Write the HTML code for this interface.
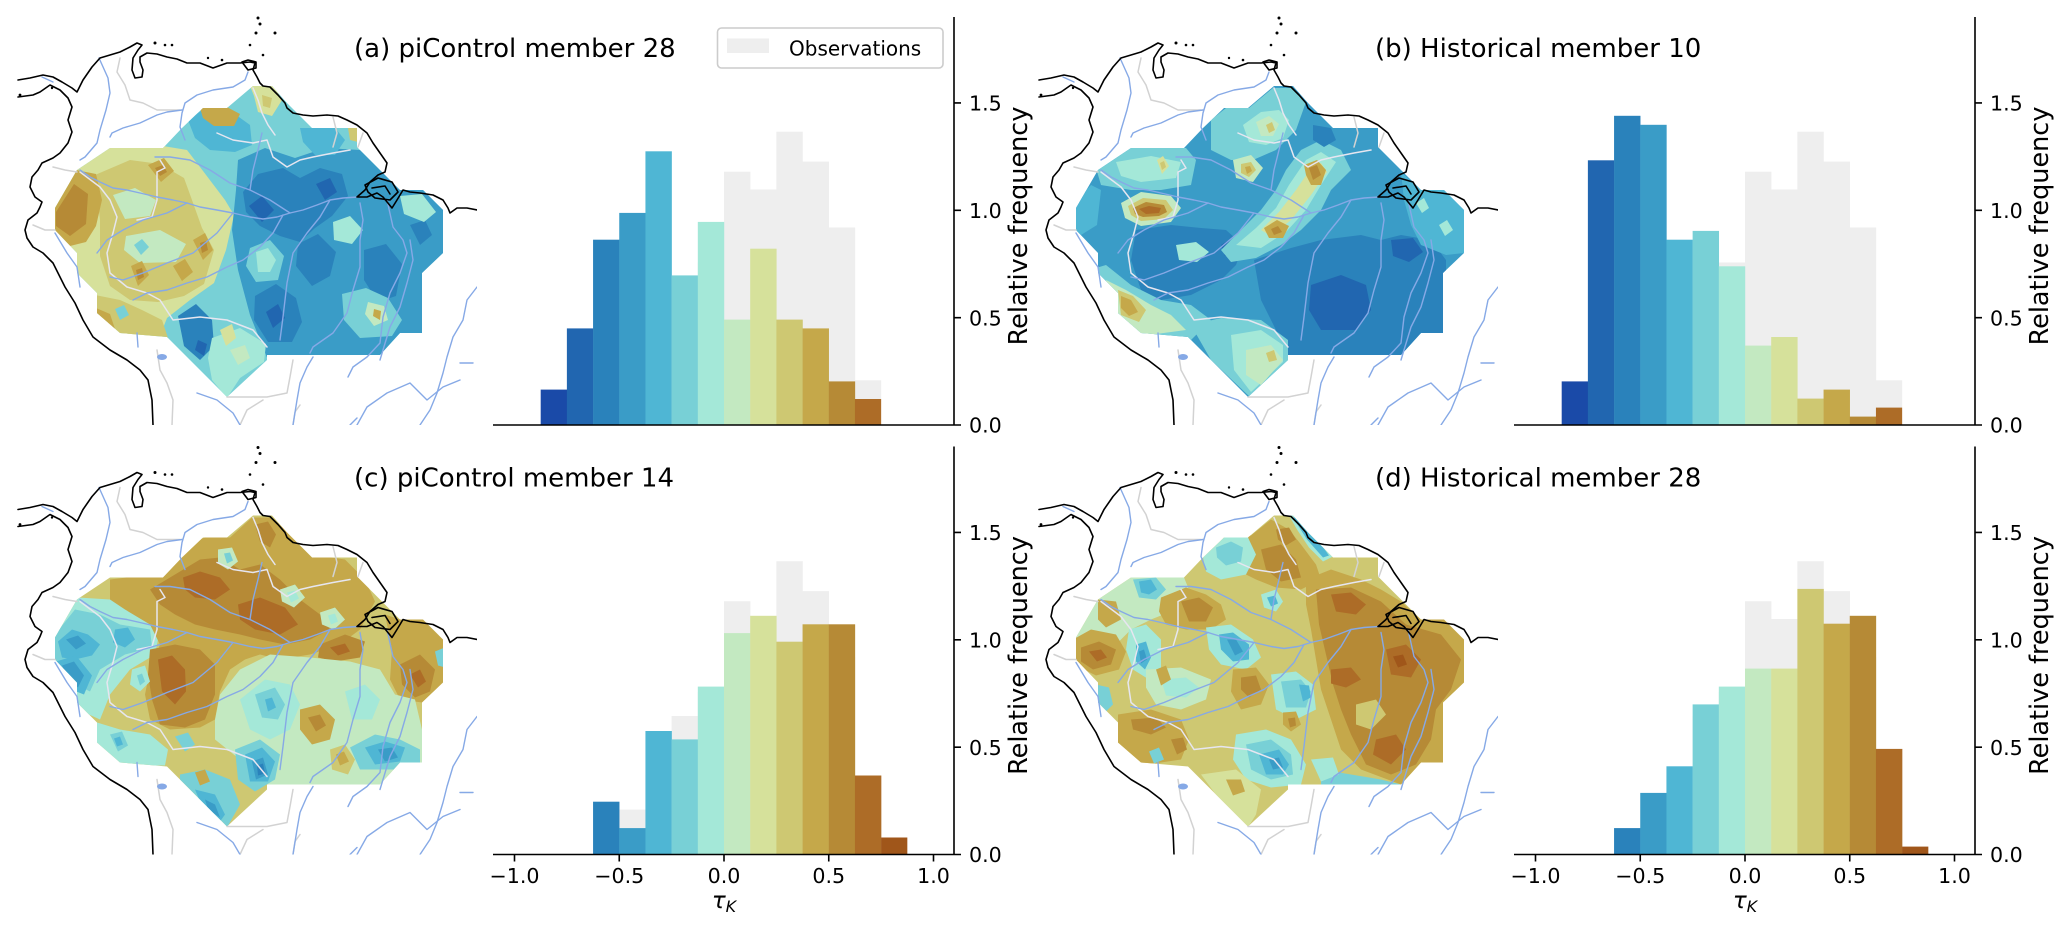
<!DOCTYPE html>
<html>
<head>
<meta charset="utf-8">
<style>
html,body{margin:0;padding:0;background:#fff;}
svg{display:block;}
.a{fill:#1a4aa8}.b{fill:#2166b0}.c{fill:#2a82bb}.d{fill:#3a9cc7}.e{fill:#4fb6d4}.f{fill:#78d0d6}.g{fill:#a4e8d8}.h{fill:#c3e9c1}.i{fill:#d6e19b}.j{fill:#cec872}.k{fill:#c5a84a}.l{fill:#b68a36}.m{fill:#ad6c27}.n{fill:#a0561a}
text{font-family:"DejaVu Sans","Liberation Sans",sans-serif;fill:#000;}
</style>
</head>
<body>
<svg width="2067" height="931" viewBox="0 0 2067 931" xmlns="http://www.w3.org/2000/svg" xmlns:xlink="http://www.w3.org/1999/xlink">
<defs>
  <clipPath id="dp" clipPathUnits="userSpaceOnUse">
    <polygon points="253,86 272,86 287,103 312,128 357,128 357,147 380,170 400,190 423,190 443,210 443,253 422,273 422,333 400,333 380,355 267,355 267,360 227,397 167,337 120,333 97,313 97,293 77,273 77,253 55,230 55,208 77,170 110,148 163,148 182,128 203,108 227,108"/>
  </clipPath>
  <clipPath id="mc" clipPathUnits="userSpaceOnUse">
    <rect x="17" y="15" width="460" height="410"/>
  </clipPath>

  <g id="geo" clip-path="url(#mc)">
    <g fill="none" stroke="#d2d2d2" stroke-width="1.5" stroke-linejoin="round" stroke-linecap="round">
      <path d="M120,58L117,72L125,85L130,100L143,103L157,110L180,110"/>
      <path d="M33,225L45,230L55,230"/>
      <path d="M53,167L65,170L77,172"/>
      <path d="M157,350L160,370L167,383L173,400L172,425"/>
      <path d="M227,397L243,397L267,397L287,393L290,377L293,360"/>
      <path d="M240,425L247,410L263,400"/>
      <path d="M293,425L295,412L300,405"/>
      <path d="M333,117L337,133L333,147"/>
      <path d="M363,133L358,147"/>
    </g>
    <g fill="none" stroke="#e6e6f0" stroke-width="1.5" stroke-linejoin="round" stroke-linecap="round">
      <path d="M160,160L165,168L157,172L157,200L152,217L137,220"/>
      <path d="M217,133L233,140L253,143L267,140L273,157L287,167L300,160L313,157L333,153L350,150"/>
      <path d="M253,88L258,100L262,113L268,125L275,135"/>
      <path d="M80,172L100,187L110,200L117,217L113,233"/>
      <path d="M113,233L107,253L110,273L127,287L147,293L160,300L173,320L200,317L227,320L253,330L267,347"/>
    </g>
    <g fill="none" stroke="#86a9e6" stroke-width="1.4" stroke-linejoin="round" stroke-linecap="round">
      <path d="M99,58L108,78L110,93L106,110L100,130L97,143L85,157L80,160"/>
      <path d="M248,72L245,80L233,87L213,90L197,95L185,103L182,113L180,127L185,140"/>
      <path d="M182,110L167,112L157,115L140,123L123,128L112,133L110,137"/>
      <path d="M358,197L343,198L330,200L317,205L303,210L290,213L277,217L263,219L250,217L233,213L217,210L200,207L187,203L173,200L157,197L140,193L127,190L113,188L100,182L90,177L80,170"/>
      <path d="M290,213L270,200L250,190L230,183L210,170L190,160L170,157L155,157"/>
      <path d="M250,190L253,170L258,150L262,133"/>
      <path d="M283,215L273,233L260,247L243,260L227,267L207,277L187,283L167,290L147,293L133,300"/>
      <path d="M233,213L217,233L193,253L167,263L143,273L123,280L110,277"/>
      <path d="M187,203L167,213L143,220L123,230L107,240L97,253"/>
      <path d="M330,200L320,217L307,233L293,253L287,283L283,317L280,340"/>
      <path d="M360,203L363,220L360,240L360,267L353,290L347,313L333,333L313,347L310,353"/>
      <path d="M387,200L393,227L403,240L407,253L400,273L390,293L383,317L380,343L367,357L353,367L348,377"/>
      <path d="M410,240L413,260L407,283L400,307L390,327L383,350L380,360"/>
      <path d="M197,393L217,400L233,413L240,425"/>
      <path d="M293,425L297,400L300,383L307,367L313,357"/>
      <path d="M357,425L367,407L387,393L410,383L427,400L443,387L460,380"/>
      <path d="M477,287L467,300L463,320L453,337L447,357L443,373L437,393L430,410L420,425"/>
      <path d="M460,363L473,363"/>
      <path d="M55,233L67,253L77,267L80,287"/>
      <path d="M137,333L138,347"/>
      <path d="M42,77L53,82"/>
      <path d="M350,425L357,418"/>
    </g>
    <ellipse cx="162" cy="357" rx="5" ry="3" fill="#86a9e6"/>
    <g fill="none" stroke="#000" stroke-width="1.6" stroke-linejoin="round" stroke-linecap="round">
      <path d="M18,80L30,78L43,75L53,77L62,82L72,88L77,92L83,80L92,67L100,58L110,55L120,52L130,47L137,43L142,45L138,50L133,58L132,70L135,78L142,77L143,70L140,62L140,57L147,53L157,54L167,57L177,59L187,63L200,63L213,68L227,63L240,63L250,62L255,63L253,70L257,77L260,83L263,86L270,87L278,95L285,103L287,108L293,113L303,115L313,116L327,115L338,116L347,120L357,125L367,133L373,143L380,153L387,163L385,172L378,175L370,182L365,190L357,197L367,197L377,193L383,197L392,208L397,200L403,190L410,192L420,193L433,195L443,200L448,208L450,213L457,208L467,208L477,210"/>
      <path d="M18,97L33,95L40,92L50,85L60,90L68,98L72,107L68,120L72,132L68,143L60,153L53,158L42,163L38,170L32,177L30,187L35,197L42,202L40,207L37,213L28,220L25,230L27,238L33,247L43,253L53,263L65,287L75,303L83,320L93,337L110,350L127,360L140,370L148,380L152,400L153,425"/>
      <path d="M365,185L378,178L392,182L398,192L390,200L375,198L368,192Z"/>
      <path d="M372,188L385,186L390,194"/>
      <path d="M242,62L248,60L256,62L256,68L248,70Z"/>
    </g>
    <g fill="#000">
      <circle cx="258" cy="18" r="1.5"/><circle cx="260" cy="24" r="1.5"/><circle cx="256" cy="33" r="1.5"/>
      <circle cx="275" cy="33" r="1.5"/><circle cx="250" cy="45" r="1.3"/><circle cx="263" cy="55" r="1.3"/>
      <circle cx="155" cy="43" r="1.5"/><circle cx="165" cy="45" r="1.3"/><circle cx="172" cy="45" r="1.3"/>
      <circle cx="208" cy="58" r="1.2"/><circle cx="222" cy="60" r="1.3"/><circle cx="20" cy="95" r="1.4"/>
      <circle cx="52" cy="88" r="1.2"/>
    </g>
  </g>

  <g id="obs" fill="#eeeeee">
    <rect x="619.25" y="380.1" width="26.4" height="44.9"/>
    <rect x="645.44" y="345.6" width="26.4" height="79.4"/>
    <rect x="671.63" y="286.5" width="26.4" height="138.5"/>
    <rect x="697.81" y="262.5" width="26.4" height="162.5"/>
    <rect x="724" y="171.7" width="26.4" height="253.3"/>
    <rect x="750.19" y="189.5" width="26.4" height="235.5"/>
    <rect x="776.38" y="131.7" width="26.4" height="293.3"/>
    <rect x="802.56" y="161.6" width="26.4" height="263.4"/>
    <rect x="828.75" y="227.5" width="26.4" height="197.5"/>
    <rect x="854.94" y="380.3" width="26.2" height="44.7"/>
  </g>

  <g id="ax" fill="none" stroke="#000" stroke-width="1.6">
    <path d="M493,425H954M954,17V425.8M954,425h7M954,317.65h7M954,210.3h7M954,102.95h7"/>
  </g>
  <g id="xt" fill="none" stroke="#000" stroke-width="1.6">
    <path d="M514.5,425v7M619.25,425v7M724,425v7M828.75,425v7M933.5,425v7"/>
  </g>
</defs>

<rect x="0" y="0" width="2067" height="931" fill="#fff"/>

<!-- ================= PANEL A MAP ================= -->
<g transform="translate(0,0)">
  <g clip-path="url(#dp)">
    <rect class="f" x="40" y="80" width="420" height="330"/>
    <path class="i" d="M50,200L77,168L110,146L163,146L187,150L200,167L225,200L234,215L226,250L214,283L190,300L167,318L160,336L118,336L95,314L95,294L75,274L75,254L52,232Z"/>
    <path class="j" d="M95,175L130,160L160,164L184,178L192,200L202,228L214,250L204,284L184,296L158,302L130,300L110,286L100,256L100,220Z"/>
    <path class="k" d="M52,210L76,170L96,174L102,200L96,226L86,242L70,246L52,232Z"/>
    <path class="l" d="M56,212L74,184L88,194L86,224L70,236L56,226Z"/>
    <path class="h" d="M113,195L135,188L156,200L150,216L125,219Z"/>
    <path class="h" d="M126,236L160,230L186,244L176,262L140,263L124,250Z"/>
    <path class="f" d="M134,245L142,239L149,247L141,255Z"/>
    <path class="k" d="M148,165L164,158L174,171L161,182Z"/>
    <path class="k" d="M193,240L205,233L213,250L203,260Z"/>
    <path class="k" d="M131,266L142,261L149,275L138,286Z"/>
    <path class="k" d="M173,266L185,259L193,272L182,281Z"/>
    <path class="l" d="M155,168L163,165L167,172L160,176Z"/>
    <path class="l" d="M200,243L206,241L208,250L202,253Z"/>
    <path class="l" d="M136,270L142,268L144,277L138,280Z"/>
    <path class="j" d="M95,295L120,300L142,310L162,320L168,338L118,338L95,316Z"/>
    <path class="k" d="M96,308L110,314L116,332L104,336L96,320Z"/>
    <path class="f" d="M115,309L124,305L129,315L120,320Z"/>
    <path class="d" d="M238,160L265,148L295,158L325,148L360,150L380,170L400,190L450,190L450,360L268,360L250,315L238,270L232,230L236,190Z"/>
    <path class="e" d="M188,120L205,108L232,112L250,125L252,145L235,152L210,150L195,138Z"/>
    <path class="e" d="M300,128L335,128L345,140L335,155L315,155L303,142Z"/>
    <path class="c" d="M243,192L258,174L283,168L300,178L320,168L342,174L348,196L332,216L315,228L300,242L280,236L260,226L246,212Z"/>
    <path class="c" d="M298,244L318,234L336,252L330,276L312,286L296,266Z"/>
    <path class="c" d="M255,296L276,284L296,298L302,322L292,342L268,342L254,320Z"/>
    <path class="c" d="M364,250L386,244L402,264L396,296L378,302L364,280Z"/>
    <path class="c" d="M178,316L196,304L212,320L214,346L200,360L184,346Z"/>
    <path class="c" d="M410,225L425,220L432,235L420,245Z"/>
    <path class="b" d="M249,206L262,196L274,210L262,222Z"/>
    <path class="b" d="M316,184L330,178L337,192L325,200Z"/>
    <path class="b" d="M266,312L278,304L285,318L273,328Z"/>
    <path class="b" d="M198,340L207,344L204,356L195,350Z"/>
    <path class="f" d="M250,248L270,240L284,256L278,280L256,282L246,266Z"/>
    <path class="g" d="M256,252L268,248L276,260L270,272L258,272Z"/>
    <path class="g" d="M333,222L350,216L363,230L352,244L334,240Z"/>
    <path class="g" d="M400,196L422,194L436,212L424,222L404,214Z"/>
    <path class="f" d="M342,294L366,288L388,298L402,320L392,336L360,338L344,320Z"/>
    <path class="h" d="M368,302L384,306L388,320L374,326L365,314Z"/>
    <path class="k" d="M374,309L381,311L380,320L373,316Z"/>
    <path class="g" d="M212,338L240,328L266,344L264,362L240,378L227,398L212,380L208,358Z"/>
    <path class="i" d="M220,330L232,324L236,338L226,346Z"/>
    <path class="h" d="M230,350L245,345L250,358L238,365Z"/>
    <path class="k" d="M200,108L225,106L240,114L234,126L214,126L203,118Z"/>
    <path class="i" d="M250,86L274,86L282,100L272,116L258,112L254,96Z"/>
    <path class="j" d="M262,95L272,98L270,108L263,106Z"/>
    <path class="j" d="M348,128L358,128L358,142L350,140Z"/>
  </g>
  <use xlink:href="#geo" href="#geo"/>
</g>

<!-- ================= PANEL B MAP ================= -->
<g transform="translate(1021,0)">
  <g clip-path="url(#dp)">
    <rect class="d" x="40" y="80" width="420" height="330"/>
    <path class="f" d="M75,168L110,148L165,148L175,160L170,185L140,190L110,190L80,185Z"/>
    <path class="g" d="M95,162L130,156L160,162L155,178L120,182L100,176Z"/>
    <path class="i" d="M136,160L142,156L148,166L141,174Z"/>
    <path class="j" d="M139,163L143,161L145,167L141,170Z"/>
    <path class="e" d="M52,205L70,185L80,190L76,225L60,235L52,228Z"/>
    <path class="c" d="M115,230L150,225L180,228L205,230L222,245L215,265L200,280L170,295L140,300L120,290L110,260Z"/>
    <path class="g" d="M155,245L175,242L188,252L176,262L158,260Z"/>
    <path class="b" d="M200,245L208,240L212,252L204,256Z"/>
    <path class="h" d="M100,203L120,192L150,196L160,208L150,222L120,226L104,218Z"/>
    <path class="j" d="M107,206L122,198L145,200L152,210L143,219L120,221L110,215Z"/>
    <path class="l" d="M112,208L125,202L143,205L146,212L138,216L122,217L114,214Z"/>
    <path class="m" d="M118,209L128,206L140,208L138,213L125,214Z"/>
    <path class="c" d="M233,260L270,248L300,240L340,235L360,240L380,235L410,240L425,260L425,360L268,360L255,330L240,300Z"/>
    <path class="b" d="M290,285L320,275L345,285L350,310L335,330L300,330L288,310Z"/>
    <path class="b" d="M370,240L392,238L402,252L388,262L372,256Z"/>
    <path class="f" d="M200,250L220,230L240,210L255,190L265,170L280,150L300,140L320,150L330,170L310,190L300,210L280,230L260,245L235,258L210,262Z"/>
    <path class="g" d="M215,245L235,228L255,208L268,185L285,160L300,152L315,162L300,185L285,210L265,232L240,248Z"/>
    <path class="i" d="M240,230L258,212L275,190L290,168L300,163L306,172L290,195L270,220L250,236Z"/>
    <path class="k" d="M283,165L296,160L305,170L300,185L290,185L285,175Z"/>
    <path class="l" d="M288,168L296,165L300,175L292,180Z"/>
    <path class="k" d="M243,228L256,220L268,226L262,238L248,238Z"/>
    <path class="l" d="M250,229L257,226L261,232L253,235Z"/>
    <path class="f" d="M190,120L205,108L228,108L252,88L272,88L285,102L275,130L255,150L232,160L210,160L190,150Z"/>
    <path class="g" d="M222,125L240,112L258,110L268,120L262,138L245,145L228,142Z"/>
    <path class="h" d="M235,122L248,116L258,124L252,136L240,136Z"/>
    <path class="j" d="M245,125L251,122L254,130L248,133Z"/>
    <path class="h" d="M212,160L230,155L242,168L232,182L215,178Z"/>
    <path class="j" d="M220,164L230,162L235,170L228,177L220,173Z"/>
    <path class="k" d="M224,167L229,166L231,171L226,174Z"/>
    <path class="e" d="M380,172L400,190L423,190L443,210L443,253L425,255L400,245L390,225L383,200Z"/>
    <path class="g" d="M395,203L403,198L408,208L401,213Z"/>
    <path class="g" d="M418,225L426,220L432,230L424,236Z"/>
    <path class="c" d="M292,125L310,128L315,140L303,147L292,140Z"/>
    <path class="f" d="M75,268L85,265L110,285L140,300L170,305L190,320L170,340L120,336L97,315L77,290Z"/>
    <path class="h" d="M85,280L105,290L130,305L150,315L165,330L120,336L100,318L90,300Z"/>
    <path class="j" d="M97,290L112,296L125,310L118,322L100,315Z"/>
    <path class="k" d="M100,296L110,300L117,312L108,316L100,308Z"/>
    <path class="f" d="M170,325L200,318L240,320L267,340L267,362L230,398L190,360Z"/>
    <path class="g" d="M210,335L240,330L262,345L262,362L230,392L213,370Z"/>
    <path class="h" d="M225,350L250,345L262,360L240,385L225,375Z"/>
    <path class="j" d="M245,353L253,350L256,360L248,362Z"/>
  </g>
  <use xlink:href="#geo" href="#geo"/>
</g>

<!-- ================= PANEL C MAP ================= -->
<g transform="translate(0,429.5)">
  <g clip-path="url(#dp)">
    <rect class="j" x="40" y="80" width="420" height="330"/>
    <path class="g" d="M52,200L78,168L110,170L150,175L160,200L155,225L130,240L110,265L100,290L78,280L52,235Z"/>
    <path class="f" d="M55,205L75,180L100,185L120,195L150,200L152,218L125,225L100,240L90,262L76,255L55,235Z"/>
    <path class="e" d="M58,212L72,200L88,205L100,215L92,226L75,230L62,228Z"/>
    <path class="e" d="M115,200L128,198L135,210L125,218L113,213Z"/>
    <path class="d" d="M66,210L78,206L86,214L76,220Z"/>
    <path class="e" d="M56,232L76,226L92,246L84,265L66,258Z"/>
    <path class="d" d="M62,236L74,232L84,246L78,258L68,250Z"/>
    <path class="k" d="M110,150L135,147L165,135L185,115L205,108L230,108L252,88L272,88L290,105L310,125L345,130L365,150L375,172L360,200L340,215L310,225L280,230L260,225L245,230L230,240L220,262L215,290L200,298L170,300L150,290L145,265L150,240L160,215L150,195L125,180L110,170Z"/>
    <path class="l" d="M150,160L175,145L200,130L220,128L240,140L260,135L280,150L300,170L320,185L330,200L310,210L285,215L260,210L240,205L215,200L195,195L175,185L160,175Z"/>
    <path class="m" d="M183,148L200,142L220,148L230,160L215,170L195,168L185,160Z"/>
    <path class="m" d="M238,175L260,168L285,178L298,195L280,205L255,200L240,190Z"/>
    <path class="l" d="M150,220L175,215L200,220L215,235L215,265L205,290L185,298L160,295L152,270L148,245Z"/>
    <path class="m" d="M158,230L172,226L185,240L186,262L175,275L162,262Z"/>
    <path class="l" d="M255,95L268,92L276,105L270,118L260,112Z"/>
    <path class="h" d="M218,120L232,118L238,132L228,140L218,134Z"/>
    <path class="f" d="M224,124L230,123L233,131L227,134Z"/>
    <path class="h" d="M280,160L295,155L305,168L294,178L282,172Z"/>
    <path class="g" d="M287,163L295,161L299,169L291,173Z"/>
    <path class="h" d="M320,183L335,178L345,190L334,200L322,195Z"/>
    <path class="g" d="M328,186L335,184L338,192L331,195Z"/>
    <path class="g" d="M132,240L145,236L150,252L140,262L130,255Z"/>
    <path class="f" d="M137,246L142,244L145,252L140,256Z"/>
    <path class="k" d="M385,185L400,190L423,190L443,210L443,253L422,273L400,270L390,250L392,220Z"/>
    <path class="l" d="M400,235L420,225L435,240L430,262L415,268L402,255Z"/>
    <path class="m" d="M410,245L420,240L426,252L418,258Z"/>
    <path class="f" d="M435,222L445,218L445,238L438,236Z"/>
    <path class="l" d="M320,215L345,205L365,212L360,228L335,232L318,228Z"/>
    <path class="m" d="M330,218L345,214L350,222L338,226Z"/>
    <path class="h" d="M220,265L240,240L270,225L310,228L350,232L380,240L395,265L415,270L422,300L422,333L380,355L268,355L240,330L215,310L215,290Z"/>
    <path class="g" d="M240,270L265,250L290,255L300,275L290,300L270,310L250,300Z"/>
    <path class="f" d="M255,265L275,258L285,275L278,290L262,288Z"/>
    <path class="e" d="M265,270L272,268L276,278L268,282Z"/>
    <path class="g" d="M345,262L365,255L380,270L372,290L352,290Z"/>
    <path class="k" d="M300,280L320,275L335,290L330,310L312,315L300,300Z"/>
    <path class="l" d="M308,288L320,285L326,296L316,302Z"/>
    <path class="j" d="M330,320L345,315L355,330L348,345L332,340Z"/>
    <path class="k" d="M336,325L344,322L349,332L340,336Z"/>
    <path class="f" d="M235,320L260,310L280,325L275,350L255,362L238,350Z"/>
    <path class="e" d="M245,325L262,318L275,332L268,352L250,352Z"/>
    <path class="d" d="M252,332L263,328L268,345L256,350Z"/>
    <path class="c" d="M257,336L263,334L265,344L258,346Z"/>
    <path class="f" d="M350,318L375,305L400,310L420,320L420,335L395,340L360,340Z"/>
    <path class="e" d="M365,318L385,312L405,318L400,332L375,335Z"/>
    <path class="d" d="M378,320L392,318L398,328L385,332Z"/>
    <path class="f" d="M180,345L205,340L230,350L240,375L227,398L200,372L180,358Z"/>
    <path class="e" d="M195,360L215,365L225,385L220,392L200,372Z"/>
    <path class="d" d="M205,370L215,375L220,388L208,380Z"/>
    <path class="k" d="M195,343L205,340L210,352L200,356Z"/>
    <path class="g" d="M97,293L120,300L150,305L168,320L165,336L120,336L97,315Z"/>
    <path class="f" d="M110,305L122,302L128,316L118,322Z"/>
    <path class="e" d="M114,309L120,307L123,315L117,317Z"/>
    <path class="f" d="M175,307L188,303L195,315L185,322Z"/>
  </g>
  <use xlink:href="#geo" href="#geo"/>
</g>

<!-- ================= PANEL D MAP ================= -->
<g transform="translate(1021,429.5)">
  <g clip-path="url(#dp)">
    <rect class="j" x="40" y="80" width="420" height="330"/>
    <path class="h" d="M50,200L77,168L110,148L163,148L170,165L155,180L130,190L110,200L95,215L75,225L55,232Z"/>
    <path class="f" d="M112,150L135,148L145,160L135,170L118,168Z"/>
    <path class="e" d="M118,152L130,150L136,160L128,165L120,163Z"/>
    <path class="k" d="M77,170L95,172L100,190L85,198L77,190Z"/>
    <path class="k" d="M140,168L165,158L185,165L200,175L205,190L190,200L165,200L145,195L138,182Z"/>
    <path class="l" d="M160,172L178,168L192,178L185,192L168,192Z"/>
    <path class="k" d="M52,210L70,200L95,205L105,222L98,240L75,246L55,236Z"/>
    <path class="l" d="M60,218L78,212L95,220L90,235L72,240L60,232Z"/>
    <path class="m" d="M68,222L80,220L86,228L76,232Z"/>
    <path class="k" d="M205,108L230,106L250,90L268,100L280,115L295,135L300,150L280,160L255,158L235,150L215,140L205,125Z"/>
    <path class="l" d="M240,120L260,115L275,130L280,148L260,152L245,140Z"/>
    <path class="l" d="M255,100L268,98L275,110L265,116L257,110Z"/>
    <path class="g" d="M268,86L275,86L290,102L312,127L302,132L288,118L276,100Z"/>
    <path class="e" d="M272,88L278,88L295,108L308,126L302,128L286,110Z"/>
    <path class="g" d="M182,128L203,108L227,108L235,125L225,145L200,150L185,142Z"/>
    <path class="f" d="M195,118L210,112L222,118L220,132L205,136L196,128Z"/>
    <path class="k" d="M285,150L310,140L340,150L360,160L380,172L400,190L423,190L443,210L443,253L422,273L422,333L380,355L340,340L320,320L310,290L300,260L295,230L290,200L285,175Z"/>
    <path class="l" d="M295,160L330,158L360,172L385,195L420,205L440,230L430,260L415,280L410,310L395,335L370,345L345,335L330,305L320,280L312,255L305,225L298,195Z"/>
    <path class="m" d="M310,165L330,163L345,175L335,185L315,182Z"/>
    <path class="m" d="M365,220L385,215L400,230L390,248L370,245Z"/>
    <path class="m" d="M310,240L330,238L340,250L325,258L310,254Z"/>
    <path class="m" d="M355,310L375,305L385,320L370,335L352,325Z"/>
    <path class="n" d="M372,227L382,225L386,235L377,238Z"/>
    <path class="j" d="M335,275L355,270L365,285L350,300L335,295Z"/>
    <path class="g" d="M108,200L125,195L140,210L140,240L128,250L112,240L105,220Z"/>
    <path class="e" d="M115,215L125,212L130,228L124,240L115,232Z"/>
    <path class="d" d="M118,222L123,220L126,230L120,234Z"/>
    <path class="g" d="M185,198L210,195L232,210L240,228L225,240L200,235L188,220Z"/>
    <path class="e" d="M198,205L212,203L228,215L228,230L212,232L200,220Z"/>
    <path class="d" d="M206,210L215,210L222,222L214,226Z"/>
    <path class="g" d="M240,165L255,160L262,172L255,182L243,178Z"/>
    <path class="e" d="M246,168L254,166L257,174L250,177Z"/>
    <path class="h" d="M125,240L160,238L190,250L185,270L160,280L135,275L125,258Z"/>
    <path class="g" d="M140,250L165,248L178,258L165,268L145,266Z"/>
    <path class="k" d="M135,240L145,236L150,250L140,256Z"/>
    <path class="k" d="M212,240L235,238L248,255L240,275L220,280L210,262Z"/>
    <path class="l" d="M220,248L235,246L240,260L228,268L220,260Z"/>
    <path class="g" d="M250,245L275,242L292,255L295,280L275,290L255,280Z"/>
    <path class="f" d="M260,252L280,250L290,262L285,278L265,278Z"/>
    <path class="e" d="M278,255L288,256L290,268L282,272Z"/>
    <path class="k" d="M262,283L275,282L280,295L270,302L262,295Z"/>
    <path class="l" d="M267,289L274,288L275,296L269,298Z"/>
    <path class="g" d="M215,305L245,300L270,310L285,335L280,355L250,358L225,350L212,330Z"/>
    <path class="f" d="M225,315L250,310L270,325L272,345L250,350L230,340Z"/>
    <path class="e" d="M238,325L258,320L268,335L262,345L245,345Z"/>
    <path class="d" d="M248,330L258,328L262,338L252,340Z"/>
    <path class="f" d="M300,340L330,345L360,350L380,355L300,355Z"/>
    <path class="g" d="M290,330L312,328L318,345L300,352Z"/>
    <path class="k" d="M97,285L130,280L160,290L168,310L160,330L120,336L97,315Z"/>
    <path class="l" d="M110,290L135,288L145,298L130,305L112,300Z"/>
    <path class="l" d="M150,310L162,308L166,320L156,325Z"/>
    <path class="f" d="M128,322L138,318L143,330L133,334Z"/>
    <path class="f" d="M75,255L88,258L92,275L82,285L75,275Z"/>
    <path class="i" d="M180,345L215,340L240,360L235,385L227,398L200,372Z"/>
    <path class="k" d="M205,350L220,350L224,362L212,366Z"/>
  </g>
  <use xlink:href="#geo" href="#geo"/>
</g>

<!-- ================= HISTOGRAM A ================= -->
<g transform="translate(0,0)">
  <use xlink:href="#obs" href="#obs"/>
  <rect class="a" x="540.69" y="389.6" width="26.4" height="35.4"/>
  <rect class="b" x="566.88" y="328.4" width="26.4" height="96.6"/>
  <rect class="c" x="593.06" y="239.7" width="26.4" height="185.3"/>
  <rect class="d" x="619.25" y="212.9" width="26.4" height="212.1"/>
  <rect class="e" x="645.44" y="151.3" width="26.4" height="273.7"/>
  <rect class="f" x="671.63" y="275.4" width="26.4" height="149.6"/>
  <rect class="g" x="697.81" y="221.9" width="26.4" height="203.1"/>
  <rect class="h" x="724" y="319.6" width="26.4" height="105.4"/>
  <rect class="i" x="750.19" y="248.7" width="26.4" height="176.3"/>
  <rect class="j" x="776.38" y="319.6" width="26.4" height="105.4"/>
  <rect class="k" x="802.56" y="328.4" width="26.4" height="96.6"/>
  <rect class="l" x="828.75" y="381.4" width="26.4" height="43.6"/>
  <rect class="m" x="854.94" y="399" width="26.2" height="26"/>
  <use xlink:href="#ax" href="#ax"/>
</g>

<!-- ================= HISTOGRAM B ================= -->
<g transform="translate(1021,0)">
  <use xlink:href="#obs" href="#obs"/>
  <rect class="a" x="540.69" y="381.4" width="26.4" height="43.6"/>
  <rect class="b" x="566.88" y="160.3" width="26.4" height="264.7"/>
  <rect class="c" x="593.06" y="115.8" width="26.4" height="309.2"/>
  <rect class="d" x="619.25" y="124.8" width="26.4" height="300.2"/>
  <rect class="e" x="645.44" y="239.7" width="26.4" height="185.3"/>
  <rect class="f" x="671.63" y="230.9" width="26.4" height="194.1"/>
  <rect class="g" x="697.81" y="266.3" width="26.4" height="158.7"/>
  <rect class="h" x="724" y="345.6" width="26.4" height="79.4"/>
  <rect class="i" x="750.19" y="337" width="26.4" height="88"/>
  <rect class="j" x="776.38" y="398.6" width="26.4" height="26.4"/>
  <rect class="k" x="802.56" y="389.6" width="26.4" height="35.4"/>
  <rect class="l" x="828.75" y="416.6" width="26.4" height="8.4"/>
  <rect class="m" x="854.94" y="407.6" width="26.2" height="17.4"/>
  <use xlink:href="#ax" href="#ax"/>
</g>

<!-- ================= HISTOGRAM C ================= -->
<g transform="translate(0,429.5)">
  <use xlink:href="#obs" href="#obs"/>
  <rect class="c" x="593.06" y="372.2" width="26.4" height="52.8"/>
  <rect class="d" x="619.25" y="398.6" width="26.4" height="26.4"/>
  <rect class="e" x="645.44" y="301.5" width="26.4" height="123.5"/>
  <rect class="f" x="671.63" y="309.9" width="26.4" height="115.1"/>
  <rect class="g" x="697.81" y="257.1" width="26.4" height="167.9"/>
  <rect class="h" x="724" y="203.6" width="26.4" height="221.4"/>
  <rect class="i" x="750.19" y="186.3" width="26.4" height="238.7"/>
  <rect class="j" x="776.38" y="212.2" width="26.4" height="212.8"/>
  <rect class="k" x="802.56" y="194.8" width="26.4" height="230.2"/>
  <rect class="l" x="828.75" y="194.8" width="26.4" height="230.2"/>
  <rect class="m" x="854.94" y="346" width="26.4" height="79"/>
  <rect class="n" x="881.13" y="408" width="26.2" height="17"/>
  <use xlink:href="#ax" href="#ax"/>
  <use xlink:href="#xt" href="#xt"/>
</g>

<!-- ================= HISTOGRAM D ================= -->
<g transform="translate(1021,429.5)">
  <use xlink:href="#obs" href="#obs"/>
  <rect class="c" x="593.06" y="398.6" width="26.4" height="26.4"/>
  <rect class="d" x="619.25" y="363.4" width="26.4" height="61.6"/>
  <rect class="e" x="645.44" y="336.8" width="26.4" height="88.2"/>
  <rect class="f" x="671.63" y="274.9" width="26.4" height="150.1"/>
  <rect class="g" x="697.81" y="257.1" width="26.4" height="167.9"/>
  <rect class="h" x="724" y="239.1" width="26.4" height="185.9"/>
  <rect class="i" x="750.19" y="239.1" width="26.4" height="185.9"/>
  <rect class="j" x="776.38" y="159.4" width="26.4" height="265.6"/>
  <rect class="k" x="802.56" y="194.2" width="26.4" height="230.8"/>
  <rect class="l" x="828.75" y="186.3" width="26.4" height="238.7"/>
  <rect class="m" x="854.94" y="319.4" width="26.4" height="105.6"/>
  <rect class="n" x="881.13" y="417.1" width="26.2" height="7.9"/>
  <use xlink:href="#ax" href="#ax"/>
  <use xlink:href="#xt" href="#xt"/>
</g>

<!-- ================= LEGEND ================= -->
<rect x="717.5" y="28" width="225.5" height="40" rx="4" ry="4" fill="#ffffff" fill-opacity="0.8" stroke="#cccccc" stroke-width="1.6"/>
<rect x="727" y="38.5" width="42" height="14.5" fill="#eeeeee"/>
<text x="789" y="55.3" font-size="20">Observations</text>

<!-- ================= TITLES ================= -->
<text x="354" y="57" font-size="26">(a) piControl member 28</text>
<text x="1375" y="57" font-size="26">(b) Historical member 10</text>
<text x="354" y="486.5" font-size="26">(c) piControl member 14</text>
<text x="1375" y="486.5" font-size="26">(d) Historical member 28</text>

<!-- ================= Y TICK LABELS ================= -->
<g font-size="20.6">
  <text x="969" y="432.6">0.0</text>
  <text x="969" y="325.25">0.5</text>
  <text x="969" y="217.9">1.0</text>
  <text x="969" y="110.55">1.5</text>
  <text x="1990" y="432.6">0.0</text>
  <text x="1990" y="325.25">0.5</text>
  <text x="1990" y="217.9">1.0</text>
  <text x="1990" y="110.55">1.5</text>
  <text x="969" y="862.1">0.0</text>
  <text x="969" y="754.75">0.5</text>
  <text x="969" y="647.4">1.0</text>
  <text x="969" y="540.05">1.5</text>
  <text x="1990" y="862.1">0.0</text>
  <text x="1990" y="754.75">0.5</text>
  <text x="1990" y="647.4">1.0</text>
  <text x="1990" y="540.05">1.5</text>
</g>

<!-- ================= X TICK LABELS ================= -->
<g font-size="20.6" text-anchor="middle">
  <text x="514.5" y="883">−1.0</text>
  <text x="619.25" y="883">−0.5</text>
  <text x="724" y="883">0.0</text>
  <text x="828.75" y="883">0.5</text>
  <text x="933.5" y="883">1.0</text>
  <text x="1535.5" y="883">−1.0</text>
  <text x="1640.25" y="883">−0.5</text>
  <text x="1745" y="883">0.0</text>
  <text x="1849.75" y="883">0.5</text>
  <text x="1954.5" y="883">1.0</text>
</g>

<!-- ================= AXIS LABELS ================= -->
<text x="724" y="908" text-anchor="middle" font-size="23" font-style="italic">τ<tspan font-size="16" dy="4">K</tspan></text>
<text x="1745" y="908" text-anchor="middle" font-size="23" font-style="italic">τ<tspan font-size="16" dy="4">K</tspan></text>

<text transform="translate(1027,226) rotate(-90)" text-anchor="middle" font-size="25.5">Relative frequency</text>
<text transform="translate(2048,226) rotate(-90)" text-anchor="middle" font-size="25.5">Relative frequency</text>
<text transform="translate(1027,655.5) rotate(-90)" text-anchor="middle" font-size="25.5">Relative frequency</text>
<text transform="translate(2048,655.5) rotate(-90)" text-anchor="middle" font-size="25.5">Relative frequency</text>
</svg>
</body>
</html>
